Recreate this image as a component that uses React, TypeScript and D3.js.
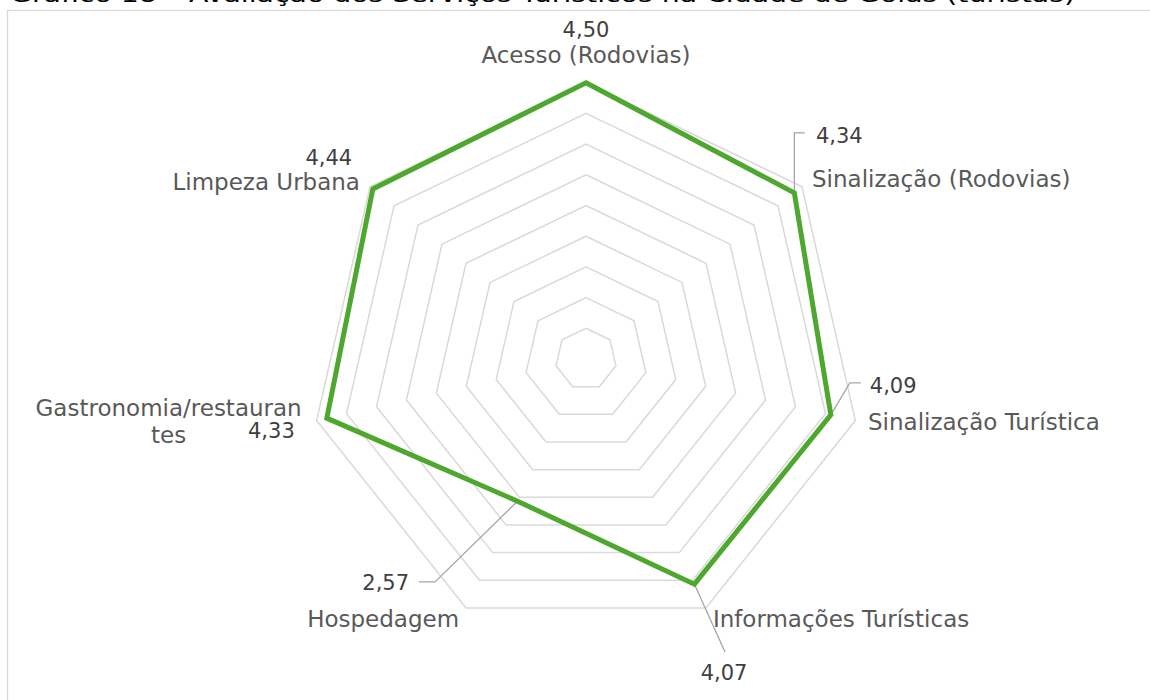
import React from "react";
import * as d3 from "d3";

const titleText = "Gráfico 18 – Avaliação dos Serviços Turísticos na Cidade de Goiás (turistas)";
const categories = [
  "Acesso (Rodovias)",
  "Sinalização (Rodovias)",
  "Sinalização Turística",
  "Informações Turísticas",
  "Hospedagem",
  "Gastronomia/restaurantes",
  "Limpeza Urbana",
];
const values = [4.5, 4.34, 4.09, 4.07, 2.57, 4.33, 4.44];
const axisMax = 4.5;

// layout (pixels, relative to scale-derived anchor points)
const catLayout = [
  { dx: 0, dy: -20, anchor: "middle" },
  { dx: 10, dy: 0, anchor: "start" },
  { dx: 12.6, dy: 9.5, anchor: "start" },
  { dx: 7, dy: 19, anchor: "start" },
  { dx: -7, dy: 19, anchor: "end" },
  { dx: -148, dy: -4.5, anchor: "middle" },
  { dx: -10, dy: 3, anchor: "end" },
];
const valLayout: { dx: number; dy: number; anchor: string; leader?: number[][] }[] = [
  { dx: 0, dy: -45.7, anchor: "middle" },
  { dx: 21.6, dy: -49.8, anchor: "start", leader: [[0, 0], [0, -60], [10.6, -60]] },
  { dx: 39, dy: -22, anchor: "start", leader: [[0, 0], [19, -32], [30, -32]] },
  { dx: 29.6, dy: 95.8, anchor: "middle", leader: [[0, 0], [30.6, 67.8]] },
  { dx: -108.5, dy: 88.8, anchor: "end", leader: [[0, 0], [-82.5, 80.8], [-98.5, 80.8]] },
  { dx: -78.8, dy: 19.8, anchor: "start" },
  { dx: -44, dy: -24, anchor: "middle" },
];

const W = 1150;
const H = 700;
const cx = 586;
const cy = 359;
const R = 276.3;
const FONT = "'DejaVu Sans', 'Noto Sans', sans-serif";

function wrapLabel(s: string): string[] {
  if (s.indexOf(" ") < 0 && s.length > 21) return [s.slice(0, 21), s.slice(21)];
  return [s];
}

export default function App() {
  const n = categories.length;
  const r = d3.scaleLinear().domain([0, axisMax]).range([0, R]);
  const angle = (i: number) => (i * 2 * Math.PI) / n;
  const pt = (i: number, v: number): [number, number] => [
    cx + r(v) * Math.sin(angle(i)),
    cy - r(v) * Math.cos(angle(i)),
  ];
  const levels = r.ticks(9).filter((t) => t > 0);
  const ringPath = (lv: number) =>
    d3.line<[number, number]>().curve(d3.curveLinearClosed)(d3.range(n).map((i) => pt(i, lv))) || "";
  const dataPath =
    d3.line<[number, number]>().curve(d3.curveLinearClosed)(values.map((v, i) => pt(i, v))) || "";
  const fmt = (v: number) => d3.format(".2f")(v).replace(".", ",");

  return (
    <svg
      width={W}
      height={H}
      style={{ position: "absolute", left: 0, top: 0, display: "block", background: "#fff" }}
      fontFamily={FONT}
    >
      <text x={10} y={2} fontSize={22} fill="#000" textLength={1065} lengthAdjust="spacingAndGlyphs">
        {titleText}
      </text>
      <rect x={7.5} y={10.5} width={W + 20} height={H + 20} fill="#fff" stroke="#d9d9d9" strokeWidth={1.3} />
      <g>
        {levels.map((lv) => (
          <path key={lv} d={ringPath(lv)} fill="none" stroke="#d9d9d9" strokeWidth={1.5} />
        ))}
      </g>
      <g>
        {valLayout.map((l, i) => {
          if (!l.leader) return null;
          const [px, py] = pt(i, values[i]);
          const d = d3.line()(l.leader.map(([a, b]) => [px + a, py + b] as [number, number])) || "";
          return <path key={i} d={d} fill="none" stroke="#a6a6a6" strokeWidth={1.3} />;
        })}
      </g>
      <path d={dataPath} fill="none" stroke="#4EA72E" strokeWidth={5} strokeLinejoin="miter" />
      <g fill="#595959" fontSize={23}>
        {categories.map((c, i) => {
          const [ox, oy] = pt(i, axisMax);
          const l = catLayout[i];
          const lines = wrapLabel(c);
          return (
            <text key={c} x={ox + l.dx} y={oy + l.dy} textAnchor={l.anchor as any}>
              {lines.map((s, j) => (
                <tspan key={j} x={ox + l.dx} dy={j === 0 ? 0 : 27}>
                  {s}
                </tspan>
              ))}
            </text>
          );
        })}
      </g>
      <g fill="#404040" fontSize={21}>
        {values.map((v, i) => {
          const [px, py] = pt(i, v);
          const l = valLayout[i];
          return (
            <text key={i} x={px + l.dx} y={py + l.dy} textAnchor={l.anchor as any}>
              {fmt(v)}
            </text>
          );
        })}
      </g>
    </svg>
  );
}
